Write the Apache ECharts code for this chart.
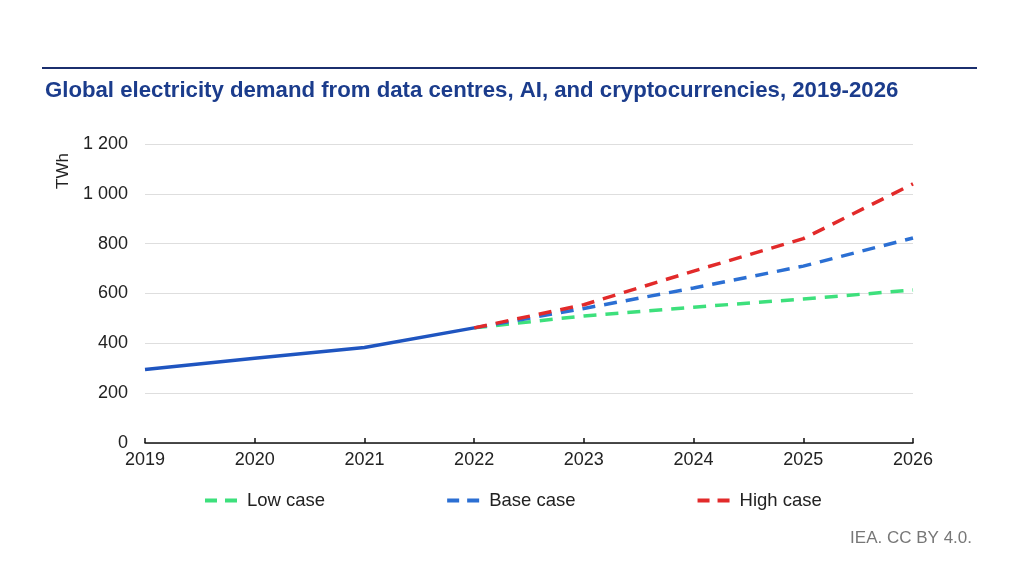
<!DOCTYPE html>
<html>
<head>
<meta charset="utf-8">
<script src="https://cdn.jsdelivr.net/npm/echarts@6/dist/echarts.min.js"></script>
<style>
  html, body { margin: 0; padding: 0; background: #fff; }
  #main { width: 1024px; height: 576px; }
</style>
</head>
<body>
<div id="main"></div>
<script>
var years = ['2019', '2020', '2021', '2022', '2023', '2024', '2025', '2026'];
var historical = [295, 340, 383, 462, null, null, null, null];
var lowCase = [null, null, null, 462, 510, 545, 578, 614];
var baseCase = [null, null, null, 462, 540, 622, 710, 823];
var highCase = [null, null, null, 462, 555, 690, 820, 1040];
var yTicks = [0, 200, 400, 600, 800, 1000, 1200];

var chartDom = document.getElementById('main');
var myChart = echarts.init(chartDom);
var option;

var font = 'Liberation Sans, Arial, sans-serif';
var dashIcon = 'path://M0,0h12v4h-12z M20,0h12v4h-12z';

function dashed(name, data, color) {
  return {
    name: name,
    type: 'line',
    data: data,
    showSymbol: false,
    symbol: 'none',
    connectNulls: false,
    lineStyle: { color: color, width: 3.5, type: [13, 9] },
    itemStyle: { color: color },
    z: 3
  };
}

option = {
  animation: false,
  textStyle: { fontFamily: font },
  title: {
    text: 'Global electricity demand from data centres, AI, and cryptocurrencies, 2019-2026',
    left: 40,
    top: 75,
    textStyle: { color: '#1b3c8c', fontSize: 22.2, fontWeight: 'bold', fontFamily: font }
  },
  graphic: [
    { type: 'rect', shape: { x: 42, y: 67, width: 935, height: 2 }, style: { fill: '#1b2f6e' } },
    { type: 'text', x: 63, y: 171, rotation: Math.PI / 2,
      style: { text: 'TWh', fill: '#222', font: '17px ' + font, align: 'center', verticalAlign: 'middle' } },
    { type: 'text', right: 52, top: 530,
      style: { text: 'IEA. CC BY 4.0.', fill: '#777', font: '17px ' + font } }
  ],
  legend: {
    data: [
      { name: 'Low case', icon: dashIcon },
      { name: 'Base case', icon: dashIcon },
      { name: 'High case', icon: dashIcon }
    ],
    left: 200,
    top: 486,
    itemWidth: 38,
    itemHeight: 4,
    itemGap: 122,
    textStyle: { color: '#222', fontSize: 18.5, fontFamily: font, padding: [0, 0, 0, 2] }
  },
  grid: { left: 145, right: 111, top: 144, bottom: 133 },
  xAxis: {
    type: 'category',
    data: years,
    boundaryGap: false,
    axisLine: { lineStyle: { color: '#111', width: 1.5 } },
    axisTick: { inside: true, length: 5, lineStyle: { color: '#111', width: 1.5 } },
    axisLabel: { color: '#222', fontSize: 18, margin: 8, fontFamily: font }
  },
  yAxis: {
    type: 'value',
    min: 0,
    max: 1200,
    interval: 200,
    axisLine: { show: false },
    axisTick: { show: false },
    splitLine: { lineStyle: { color: '#dedede', width: 1 } },
    axisLabel: {
      color: '#222', fontSize: 18, margin: 17, fontFamily: font,
      formatter: function (v) {
        return yTicks.indexOf(v) >= 0 ? String(v).replace(/\B(?=(\d{3})+(?!\d))/g, ' ') : '';
      }
    }
  },
  series: [
    dashed('Low case', lowCase, '#3de07c'),
    dashed('Base case', baseCase, '#2b6fd3'),
    dashed('High case', highCase, '#e22a2a'),
    {
      name: 'Historical',
      type: 'line',
      data: historical,
      showSymbol: false,
      symbol: 'none',
      lineStyle: { color: '#1f55c0', width: 3.5 },
      itemStyle: { color: '#1f55c0' },
      z: 4
    }
  ]
};

option && myChart.setOption(option);
</script>
</body>
</html>
